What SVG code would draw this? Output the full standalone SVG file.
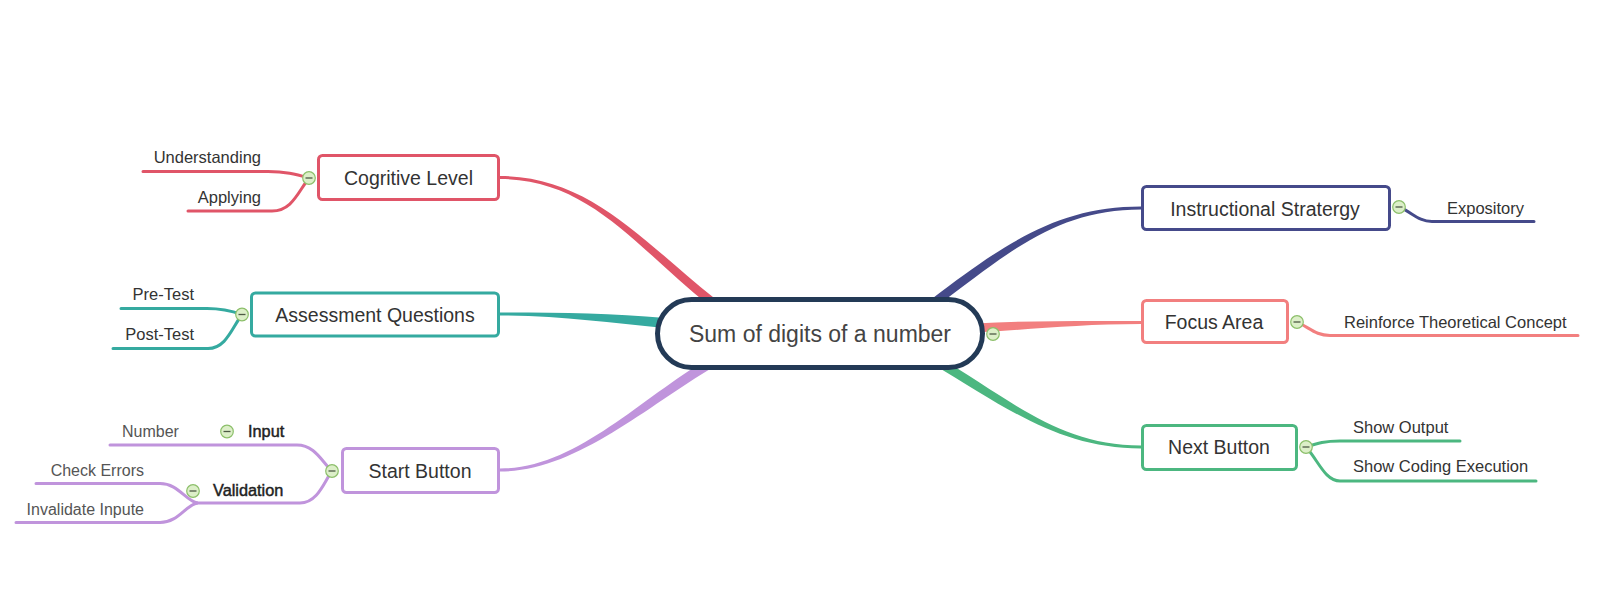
<svg xmlns="http://www.w3.org/2000/svg" width="1606" height="611" viewBox="0 0 1606 611">
<defs>
<style>
.box{fill:#fff;stroke-width:3}
.main{font-family:"Liberation Sans",Arial,sans-serif;font-size:19.5px;fill:#333;text-anchor:middle}
.sub{font-family:"Liberation Sans",Arial,sans-serif;font-size:16.5px;fill:#333}
.lite{font-family:"Liberation Sans",Arial,sans-serif;font-size:16px;fill:#555}
.bold{font-family:"Liberation Sans",Arial,sans-serif;font-size:16.3px;fill:#222;stroke:#222;stroke-width:0.45}
.br{fill:none;stroke-width:3;stroke-linecap:round}
.red{stroke:#e05568}.teal{stroke:#35aaa0}.purple{stroke:#c094dc}.blue{stroke:#454a8a}.salmon{stroke:#f27f7f}.green{stroke:#4cb780}
.tol{fill:#dcefc8;stroke:#8cbf6a;stroke-width:1.2}
.minus{stroke:#4d5a45;stroke-width:1.3}
</style>
<g id="collapse">
<circle class="tol" cx="0" cy="0" r="6.3"/>
<line class="minus" x1="-3.5" y1="0" x2="3.5" y2="0"/>
</g>
</defs>
<rect width="1606" height="611" fill="#fff"/>
<g id="connectors">
<path fill="#e05568" d="M500,176 C590,176 642.8,241.5 714.8,298.5 L709.2,305.5 C637.2,248.5 590,179 500,179 Z"/>
<path fill="#35aaa0" d="M500,312.5 C560,312.5 610.5,313 665.5,318 L664.5,328 C609.5,323 560,315.5 500,315.5 Z"/>
<path fill="#c094dc" d="M500,468.5 C575,468.5 637.4,400.7 709.4,357.7 L714.6,366.3 C642.6,409.3 575,471.5 500,471.5 Z"/>
<path fill="#454a8a" d="M1141,206.5 C1060,206.5 1007.3,241.4 932.3,298.4 L937.7,305.6 C1012.7,248.6 1060,209.5 1141,209.5 Z"/>
<path fill="#f27f7f" d="M1141,321 C1080,321 1029.8,320.5 974.8,323.5 L975.2,332.5 C1030.2,329.5 1080,324 1141,324 Z"/>
<path fill="#4cb780" d="M1141,445.5 C1060,445.5 1012.3,401.1 937.3,356.1 L932.7,363.9 C1007.7,408.9 1060,448.5 1141,448.5 Z"/>
<path class="br red" d="M143,171.5 H268 C285,171.5 295,174 309,178"/>
<path class="br red" d="M188,211 H272 C292,211 298,192 309,178"/>
<path class="br teal" d="M121,308.5 H207 C222,308.5 232,311 242,314.5"/>
<path class="br teal" d="M113,348.5 H208 C226,348.5 232,328 242,314.5"/>
<path class="br purple" d="M110,445 H297 C315,445 322,462 332,471"/>
<path class="br purple" d="M195,503 H300 C318,503 325,480 332,471"/>
<path class="br purple" d="M36,483.5 H160 C178,483.5 185,500 197,503"/>
<path class="br purple" d="M16,522.5 H160 C178,522.5 185,506 197,503"/>
<path class="br blue" d="M1399,207 C1412,212 1418,221.5 1432,221.5 H1534"/>
<path class="br salmon" d="M1297,322 C1310,328 1316,335.5 1330,335.5 H1578"/>
<path class="br green" d="M1306,447 C1318,443 1325,441 1340,441 H1460"/>
<path class="br green" d="M1306,447 C1318,460 1325,481 1340,481 H1536"/>
</g>
<g id="central">
<rect x="657.5" y="299.5" width="325" height="68" rx="34" fill="#fff" stroke="#233a56" stroke-width="5"/>
<text x="820" y="342" font-family="Liberation Sans, Arial, sans-serif" font-size="23" fill="#444" text-anchor="middle">Sum of digits of a number</text>
<use href="#collapse" x="993" y="334"/>
</g>
<g id="cogritive">
<rect class="box red" x="318.5" y="155.5" width="180" height="44" rx="4"/>
<text class="main" x="408.5" y="185">Cogritive Level</text>
<use href="#collapse" x="309" y="178"/>
<text class="sub" x="261" y="163" text-anchor="end">Understanding</text>
<text class="sub" x="261" y="203" text-anchor="end">Applying</text>
</g>
<g id="assessment">
<rect class="box teal" x="251.5" y="293" width="247" height="43" rx="4"/>
<text class="main" x="375" y="321.5">Assessment Questions</text>
<use href="#collapse" x="242" y="314.5"/>
<text class="sub" x="194" y="300" text-anchor="end">Pre-Test</text>
<text class="sub" x="194" y="340" text-anchor="end">Post-Test</text>
</g>
<g id="start">
<rect class="box purple" x="342.5" y="448.5" width="156" height="44" rx="4"/>
<text class="main" x="420" y="477.5">Start Button</text>
<use href="#collapse" x="332" y="471"/>
</g>
<g id="input">
<text class="bold" x="248" y="437">Input</text>
<use href="#collapse" x="227" y="431.5"/>
<text class="lite" x="122" y="437">Number</text>
</g>
<g id="validation">
<text class="bold" x="213" y="496">Validation</text>
<use href="#collapse" x="193" y="491"/>
<text class="lite" x="144" y="476" text-anchor="end">Check Errors</text>
<text class="lite" x="144" y="515" text-anchor="end">Invalidate Inpute</text>
</g>
<g id="instructional">
<rect class="box blue" x="1142.5" y="186.5" width="247" height="43" rx="4"/>
<text class="main" x="1265" y="215.5">Instructional Stratergy</text>
<use href="#collapse" x="1399" y="207"/>
<text class="sub" x="1447" y="214">Expository</text>
</g>
<g id="focus">
<rect class="box salmon" x="1142.5" y="300.5" width="145" height="42" rx="4"/>
<text class="main" x="1214" y="329">Focus Area</text>
<use href="#collapse" x="1297" y="322"/>
<text class="sub" x="1344" y="328">Reinforce Theoretical Concept</text>
</g>
<g id="next">
<rect class="box green" x="1142.5" y="425.5" width="154" height="44" rx="4"/>
<text class="main" x="1219" y="454">Next Button</text>
<use href="#collapse" x="1306" y="447"/>
<text class="sub" x="1353" y="433">Show Output</text>
<text class="sub" x="1353" y="472">Show Coding Execution</text>
</g>
</svg>
